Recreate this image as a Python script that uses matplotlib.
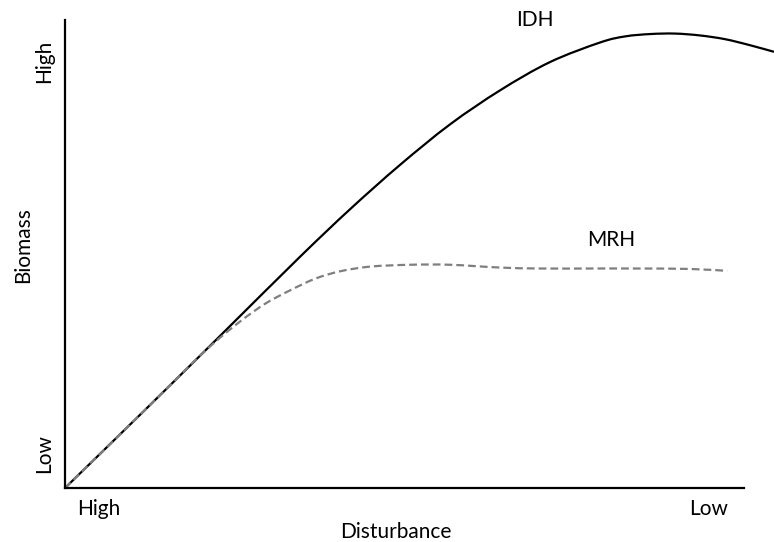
"""
Conceptual sketch: biomass vs disturbance, IDH vs MRH curves.
Writes out.png (774x542).
"""

import numpy as np
import matplotlib.pyplot as plt
from matplotlib.path import Path
from matplotlib.patches import PathPatch

# ---------------------------------------------------------------------------
# Data (x = disturbance index, y = biomass index)
# ---------------------------------------------------------------------------
idh_x = [0, 12.5, 23.6, 34.6, 42.0, 49.3, 56.7, 64.1, 71.4, 78.8,
         82.5, 86.2, 89.8, 93.5, 97.2, 100.9, 104.4]
idh_y = [0, 17.7, 33.6, 49.4, 59.6, 69.0, 77.7, 85.0, 91.0, 95.2,
         96.5, 97.0, 97.1, 96.7, 95.9, 94.6, 93.2]

mrh_x = [0, 11.1, 18.4, 22.1, 25.8, 29.5, 33.1, 36.8, 40.5, 44.9,
         50.8, 56.7, 64.1, 70.0, 77.3, 84.7, 92.1, 97.5]
mrh_y = [0, 15.7, 26.2, 31.2, 35.6, 39.4, 42.2, 44.7, 46.3, 47.3,
         47.7, 47.7, 47.1, 46.9, 46.9, 46.9, 46.8, 46.4]

x_ticks = [5.0, 94.7]
x_labels = ["High", "Low"]
y_ticks = [7.3, 91.2]
y_labels = ["Low", "High"]

FONT = ["Lato", "DejaVu Sans"]
plt.rcParams["font.family"] = FONT
plt.rcParams["font.size"] = 15


def smooth_path(xs, ys):
    # smoothed line like a spreadsheet: cubic Bezier segments through
    # every point, tangents from the neighbours (Catmull-Rom)
    p = np.column_stack([xs, ys]).astype(float)
    pad = np.vstack([p[0], p, p[-1]])
    verts = [p[0]]
    codes = [Path.MOVETO]
    for i in range(len(p) - 1):
        p0, p1, p2, p3 = pad[i], pad[i + 1], pad[i + 2], pad[i + 3]
        verts += [p1 + (p2 - p0) / 6, p2 - (p3 - p1) / 6, p2]
        codes += [Path.CURVE4] * 3
    return Path(verts, codes)


W, H = 774, 542
fig = plt.figure(figsize=(W / 100, H / 100), dpi=100)
ax = fig.add_axes([65 / W, (H - 488) / H, (W - 65) / W, 468 / H])

ax.add_patch(PathPatch(smooth_path(idh_x, idh_y), facecolor="none",
                       edgecolor="black", linewidth=1.6, clip_on=False))
ax.add_patch(PathPatch(smooth_path(mrh_x, mrh_y), facecolor="none",
                       edgecolor="#7f7f7f", linewidth=1.6,
                       linestyle=(0, (3.5, 1.8))))

ax.text(69.2, 100, "IDH", ha="center", va="center", clip_on=False)
ax.text(80.4, 53.0, "MRH", ha="center", va="center")

ax.set_xlim(0, 104.4)
ax.set_ylim(0, 100)

for spine in ("top", "right"):
    ax.spines[spine].set_visible(False)
for spine in ("left", "bottom"):
    ax.spines[spine].set_linewidth(1.6)
    ax.spines[spine].set_color("black")
ax.spines["bottom"].set_bounds(0, 100)

ax.set_xticks(x_ticks)
ax.set_xticklabels(x_labels)
ax.set_yticks(y_ticks)
ax.set_yticklabels(y_labels, rotation=90, va="center")
ax.tick_params(axis="both", length=0)
ax.tick_params(axis="x", pad=8)
ax.tick_params(axis="y", pad=8)

ax.set_xlabel("Disturbance", labelpad=2)
ax.xaxis.label.set_x((396 - 65) / (W - 65))
ax.set_ylabel("Biomass", labelpad=0.5)
ax.yaxis.label.set_y((488 - 245) / 468)

fig.savefig("out.png", dpi=100)
plt.close(fig)
